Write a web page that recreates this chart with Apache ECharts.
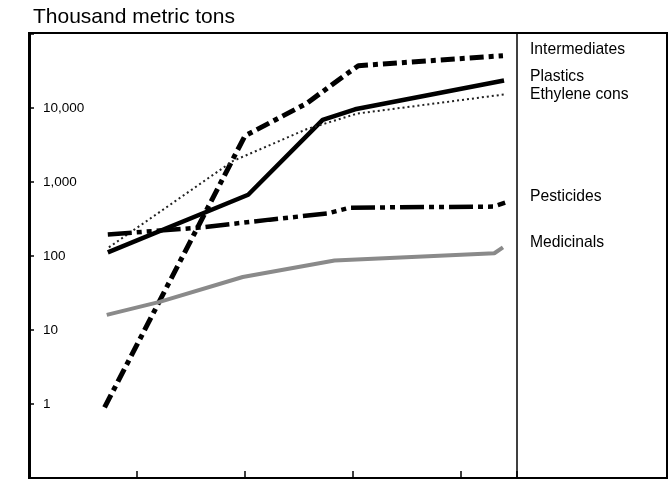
<!DOCTYPE html>
<html>
<head>
<meta charset="utf-8">
<script src="https://cdn.jsdelivr.net/npm/echarts@6/dist/echarts.min.js"></script>
<style>html,body{margin:0;padding:0;background:#fff;}#c{width:670px;height:479px;}</style>
</head>
<body>
<div id="c"></div>
<script>
// Data (years are approximate; x axis carries no labels in the source)
const intermediatesYears = [1947.0, 1960.0, 1965.7, 1969.1, 1970.5, 1983.9];
const intermediatesValues = [0.9, 4200, 11500, 26700, 37300, 51000];
const plasticsYears = [1947.3, 1960.3, 1967.2, 1970.2, 1984.0];
const plasticsValues = [112, 672, 6900, 9600, 23500];
const ethyleneYears = [1947.4, 1958.9, 1965.7, 1970.4, 1984.1];
const ethyleneValues = [131, 1925, 5160, 8400, 15300];
const pesticidesYears = [1947.3, 1955.8, 1962.3, 1967.6, 1969.7, 1983.0, 1984.1];
const pesticidesValues = [195, 242, 310, 375, 450, 465, 525];
const medicinalsYears = [1947.2, 1952.1, 1959.8, 1968.3, 1983.1, 1983.9];
const medicinalsValues = [16, 24, 52, 87, 109, 131];
const yTickLabels = [1, 10, 100, 1000, 10000];
const seriesNames = ['Intermediates', 'Plastics', 'Ethylene cons', 'Pesticides', 'Medicinals'];

const FONT = "'Liberation Sans', Arial, Helvetica, sans-serif";
function pairs(xs, ys) { return xs.map((x, i) => [x, ys[i]]); }

const chart = echarts.init(document.getElementById('c'), null, { renderer: 'canvas' });
chart.setOption({
  animation: false,
  backgroundColor: '#fff',
  grid: { left: 29, right: 153, top: 34, bottom: 1, containLabel: false },
  xAxis: {
    type: 'value', min: 1940, max: 1985.2, interval: 10,
    axisLine: { show: true, lineStyle: { color: '#000', width: 2 } },
    axisTick: { show: true, inside: true, length: 7, lineStyle: { color: '#000', width: 1.5 } },
    axisLabel: { show: false },
    splitLine: { show: false }
  },
  yAxis: {
    type: 'log', logBase: 10, min: 0.1, max: 100000,
    axisLine: { show: true, lineStyle: { color: '#000', width: 3 } },
    axisTick: { show: true, inside: true, length: 5, lineStyle: { color: '#000', width: 1.5 } },
    axisLabel: {
      show: true, inside: true, margin: 14, color: '#000', fontSize: 13.5, fontFamily: FONT,
      formatter: function (v) {
        const r = Math.round(v);
        return yTickLabels.indexOf(r) >= 0 && Math.abs(v - r) < 1e-6 ? r.toLocaleString('en-US') : '';
      }
    },
    splitLine: { show: false }
  },
  series: [
    { name: seriesNames[0], type: 'line', symbol: 'none', data: pairs(intermediatesYears, intermediatesValues),
      lineStyle: { color: '#000', width: 5, type: [14, 5, 5, 5], cap: 'butt' } },
    { name: seriesNames[1], type: 'line', symbol: 'none', data: pairs(plasticsYears, plasticsValues),
      lineStyle: { color: '#000', width: 4.5, type: 'solid' } },
    { name: seriesNames[2], type: 'line', symbol: 'none', data: pairs(ethyleneYears, ethyleneValues),
      lineStyle: { color: '#222', width: 2, type: [2, 3] } },
    { name: seriesNames[3], type: 'line', symbol: 'none', data: pairs(pesticidesYears, pesticidesValues),
      lineStyle: { color: '#000', width: 4.5, type: [24, 5, 5, 5, 5, 5], cap: 'butt' } },
    { name: seriesNames[4], type: 'line', symbol: 'none', data: pairs(medicinalsYears, medicinalsValues),
      lineStyle: { color: '#8a8a8a', width: 4 } }
  ],
  graphic: [
    { type: 'rect', shape: { x: 29, y: 33, width: 638, height: 445 }, style: { fill: 'none', stroke: '#000', lineWidth: 2 }, silent: true },
    { type: 'line', shape: { x1: 517, y1: 33, x2: 517, y2: 478 }, style: { stroke: '#000', lineWidth: 1.5 }, silent: true },
    { type: 'text', left: 33, top: 7, style: { text: 'Thousand metric tons', font: "21px " + FONT, fill: '#000' } },
    { type: 'text', x: 530, y: 50, style: { text: seriesNames[0], font: "15.7px " + FONT, fill: '#000', textVerticalAlign: 'middle' } },
    { type: 'text', x: 530, y: 77, style: { text: seriesNames[1], font: "15.7px " + FONT, fill: '#000', textVerticalAlign: 'middle' } },
    { type: 'text', x: 530, y: 95, style: { text: seriesNames[2], font: "15.7px " + FONT, fill: '#000', textVerticalAlign: 'middle' } },
    { type: 'text', x: 530, y: 197, style: { text: seriesNames[3], font: "15.7px " + FONT, fill: '#000', textVerticalAlign: 'middle' } },
    { type: 'text', x: 530, y: 243, style: { text: seriesNames[4], font: "15.7px " + FONT, fill: '#000', textVerticalAlign: 'middle' } }
  ]
});
</script>
</body>
</html>
